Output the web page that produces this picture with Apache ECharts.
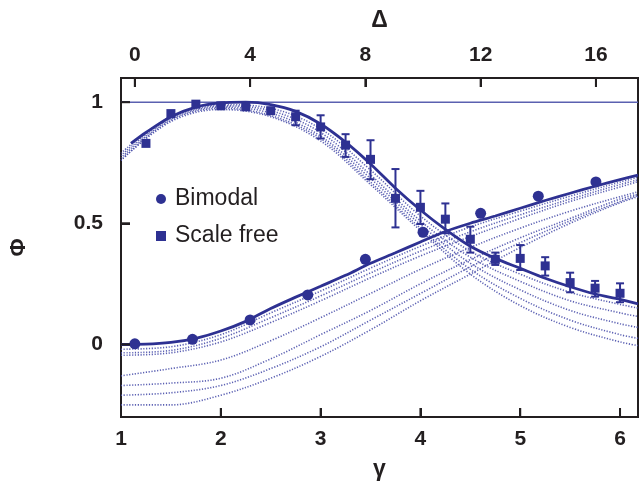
<!DOCTYPE html>
<html>
<head>
<meta charset="utf-8">
<script src="https://cdn.jsdelivr.net/npm/echarts@6/dist/echarts.min.js"></script>
<style>html,body{margin:0;padding:0;background:#fff}#c{width:639px;height:492px}</style>
</head>
<body>
<div id="c"></div>
<script>
// ---- axes ----
const gammaMin = 1, gammaMax = 6.18;
const deltaMin = -0.48, deltaMax = 17.46;
const phiMin = -0.3, phiMax = 1.1;
const gammaTicks = [1, 2, 3, 4, 5, 6];
const deltaTicks = [0, 4, 8, 12, 16];
const phiTicks = [0, 0.5, 1];
const phiRef = 1;

// ---- Bimodal data points (plotted against Δ) ----
const bimodalDelta = [0, 2, 4, 6, 8, 10, 12, 14, 16];
const bimodalPhi = [0.002, 0.021, 0.101, 0.204, 0.351, 0.463, 0.541, 0.612, 0.671];

// ---- Scale free data points (plotted against γ) ----
const sfGamma = [1.25, 1.5, 1.75, 2, 2.25, 2.5, 2.75, 3, 3.25, 3.5, 3.75, 4, 4.25, 4.5, 4.75, 5, 5.25, 5.5, 5.75, 6];
const sfPhi = [0.83, 0.953, 0.992, 0.985, 0.981, 0.965, 0.94, 0.898, 0.823, 0.764, 0.603, 0.566, 0.517, 0.434, 0.351, 0.355, 0.324, 0.255, 0.232, 0.211];
const sfLow = [null, null, null, null, null, 0.955, 0.905, 0.85, 0.774, 0.682, 0.483, 0.497, 0.459, 0.379, 0.328, 0.307, 0.284, 0.215, 0.197, 0.174];
const sfHigh = [null, null, null, null, null, 0.975, 0.965, 0.946, 0.868, 0.843, 0.724, 0.634, 0.582, 0.486, 0.379, 0.41, 0.36, 0.296, 0.262, 0.252];

// ---- fitted solid curves ----
const bimodalFitGamma = [1, 1.25, 1.5, 1.75, 2, 2.25, 2.5, 2.75, 3, 3.25, 3.5, 3.75, 4, 4.25, 4.5, 4.75, 5, 5.25, 5.5, 5.75, 6, 6.18];
const bimodalFit = [0, 0.001, 0.008, 0.025, 0.055, 0.095, 0.148, 0.195, 0.24, 0.285, 0.335, 0.378, 0.423, 0.466, 0.5, 0.53, 0.562, 0.594, 0.624, 0.653, 0.68, 0.699];
const sfFitGamma = [1.1, 1.25, 1.5, 1.75, 2, 2.25, 2.5, 2.75, 3, 3.25, 3.5, 3.75, 4, 4.25, 4.5, 4.75, 5, 5.25, 5.5, 5.75, 6, 6.18];
const sfFit = [0.83, 0.875, 0.94, 0.98, 0.997, 1.0, 0.99, 0.962, 0.91, 0.835, 0.745, 0.645, 0.555, 0.475, 0.405, 0.355, 0.314, 0.273, 0.238, 0.208, 0.186, 0.167];

// ---- dotted simulation curves ----
const dotGamma = [1.0, 1.5, 2.0, 2.5, 3.0, 3.5, 4.0, 4.5, 5.0, 5.5, 6.0, 6.18];
const bimodalDot1 = [-0.02, -0.01, 0.04, 0.13, 0.22, 0.315, 0.405, 0.485, 0.55, 0.612, 0.67, 0.69];
const bimodalDot2 = [-0.035, -0.025, 0.025, 0.11, 0.2, 0.295, 0.385, 0.465, 0.535, 0.6, 0.66, 0.68];
const bimodalDot3 = [-0.045, -0.035, 0.01, 0.09, 0.18, 0.275, 0.365, 0.445, 0.52, 0.59, 0.65, 0.672];
const bimodalDot4 = [-0.13, -0.1, -0.065, 0.015, 0.11, 0.21, 0.31, 0.4, 0.48, 0.55, 0.61, 0.63];
const bimodalDot5 = [-0.17, -0.16, -0.14, -0.06, 0.04, 0.14, 0.25, 0.35, 0.44, 0.52, 0.6, 0.62];
const bimodalDot6 = [-0.21, -0.2, -0.17, -0.1, -0.01, 0.1, 0.21, 0.32, 0.42, 0.51, 0.59, 0.615];
const bimodalDot7 = [-0.25, -0.25, -0.21, -0.14, -0.05, 0.06, 0.18, 0.29, 0.4, 0.5, 0.585, 0.61];
const sfDot1 = [0.79, 0.94, 0.99, 0.975, 0.89, 0.72, 0.53, 0.385, 0.29, 0.215, 0.165, 0.15];
const sfDot2 = [0.78, 0.935, 0.985, 0.965, 0.875, 0.7, 0.51, 0.36, 0.26, 0.18, 0.13, 0.115];
const sfDot3 = [0.77, 0.93, 0.98, 0.955, 0.86, 0.685, 0.495, 0.335, 0.225, 0.14, 0.085, 0.07];
const sfDot4 = [0.76, 0.925, 0.975, 0.945, 0.85, 0.67, 0.48, 0.31, 0.19, 0.1, 0.04, 0.025];
const sfDot5 = [0.76, 0.92, 0.97, 0.94, 0.84, 0.66, 0.47, 0.29, 0.16, 0.07, 0.01, -0.005];

const dotCurves = [bimodalDot1, bimodalDot2, bimodalDot3, bimodalDot4, bimodalDot5, bimodalDot6, bimodalDot7,
                   sfDot1, sfDot2, sfDot3, sfDot4, sfDot5];

const BLUE = '#2e3192';
const DOT = '#4a50ab';
const INK = '#231f20';
const FONT = '"Liberation Sans", Arial, Helvetica, sans-serif';
const TICK_LEN = 9;

const zip = (xs, ys) => xs.map((x, i) => [x, ys[i]]);

const series = [];
dotCurves.forEach(c => {
  series.push({
    type: 'line', xAxisIndex: 0, yAxisIndex: 0, data: zip(dotGamma, c),
    smooth: 0.35, showSymbol: false, silent: true, z: 1,
    lineStyle: { color: DOT, width: 1.6, type: [1.2, 1.6], opacity: 0.9 }
  });
});
series.push({
  type: 'line', xAxisIndex: 0, data: [[gammaMin, phiRef], [gammaMax, phiRef]],
  showSymbol: false, silent: true, z: 2,
  lineStyle: { color: '#5a60b0', width: 1.5 }
});
series.push({
  type: 'line', xAxisIndex: 0, data: zip(bimodalFitGamma, bimodalFit),
  smooth: 0.3, showSymbol: false, silent: true, z: 3,
  lineStyle: { color: BLUE, width: 2.8 }
});
series.push({
  type: 'line', xAxisIndex: 0, data: zip(sfFitGamma, sfFit),
  smooth: 0.3, showSymbol: false, silent: true, z: 3,
  lineStyle: { color: BLUE, width: 2.8 }
});
series.push({
  type: 'custom', xAxisIndex: 0, yAxisIndex: 0, z: 4, silent: true,
  data: sfGamma.map((g, i) => [g, sfLow[i], sfHigh[i]]).filter(d => d[1] != null),
  renderItem: function (params, api) {
    const x = api.value(0);
    const p1 = api.coord([x, api.value(1)]);
    const p2 = api.coord([x, api.value(2)]);
    const w = 4;
    const st = { stroke: BLUE, lineWidth: 2 };
    return {
      type: 'group', children: [
        { type: 'line', shape: { x1: p1[0], y1: p1[1], x2: p2[0], y2: p2[1] }, style: st },
        { type: 'line', shape: { x1: p1[0] - w, y1: p1[1], x2: p1[0] + w, y2: p1[1] }, style: st },
        { type: 'line', shape: { x1: p2[0] - w, y1: p2[1], x2: p2[0] + w, y2: p2[1] }, style: st }
      ]
    };
  }
});
series.push({
  name: 'Bimodal', type: 'scatter', xAxisIndex: 1, yAxisIndex: 0, z: 5,
  data: zip(bimodalDelta, bimodalPhi), symbol: 'circle', symbolSize: 11,
  itemStyle: { color: BLUE, opacity: 1 }
});
series.push({
  name: 'Scale free', type: 'scatter', xAxisIndex: 0, yAxisIndex: 0, z: 5,
  data: zip(sfGamma, sfPhi), symbol: 'rect', symbolSize: 9,
  itemStyle: { color: BLUE, opacity: 1 }
});

// inward tick marks, placed through the axes' own scales
function tickSeries(xAxisIndex, data, dx, dy) {
  return {
    type: 'custom', xAxisIndex: xAxisIndex, yAxisIndex: 0, z: 6, silent: true, clip: false,
    data: data,
    renderItem: function (params, api) {
      const p = api.coord([api.value(0), api.value(1)]);
      return { type: 'line', shape: { x1: p[0], y1: p[1], x2: p[0] + dx * TICK_LEN, y2: p[1] + dy * TICK_LEN },
               style: { stroke: INK, lineWidth: 2 } };
    }
  };
}
series.push(tickSeries(0, gammaTicks.slice(1).map(g => [g, phiMin]), 0, -1));
series.push(tickSeries(1, deltaTicks.map(d => [d, phiMax]), 0, 1));
series.push(tickSeries(0, phiTicks.map(v => [gammaMin, v]), 1, 0));

function axisLineOpt() { return { show: true, onZero: false, lineStyle: { color: INK, width: 2 } }; }
function tickOpt(vals) { return { show: true, inside: true, length: TICK_LEN, lineStyle: { color: INK, width: 2 }, customValues: vals }; }
function labelOpt(margin, vals) { return { color: INK, fontSize: 21, fontWeight: 'bold', fontFamily: FONT, margin: margin, customValues: vals }; }

const option = {
  animation: false,
  backgroundColor: '#fff',
  grid: { left: 119, right: 1, top: 78, bottom: 75, show: true, borderColor: INK, borderWidth: 2 },
  legend: {
    orient: 'vertical', left: 156, top: 187, padding: 0, itemGap: 13,
    itemWidth: 10, itemHeight: 10, selectedMode: false,
    textStyle: { color: INK, fontSize: 23, fontFamily: FONT, lineHeight: 24, padding: [0, 0, 0, 4] },
    data: [{ name: 'Bimodal', icon: 'circle' }, { name: 'Scale free', icon: 'rect' }]
  },
  xAxis: [
    {
      type: 'value', position: 'bottom', min: gammaMin, max: gammaMax,
      axisLine: axisLineOpt(), splitLine: { show: false },
      axisTick: tickOpt(gammaTicks.slice(1)),
      axisLabel: labelOpt(12, gammaTicks),
      name: 'γ', nameLocation: 'middle', nameGap: 41,
      nameTextStyle: { color: INK, fontSize: 23, fontWeight: 'bold', fontFamily: FONT }
    },
    {
      type: 'value', position: 'top', min: deltaMin, max: deltaMax,
      axisLine: axisLineOpt(), splitLine: { show: false },
      axisTick: tickOpt(deltaTicks),
      axisLabel: labelOpt(12, deltaTicks),
      name: 'Δ', nameLocation: 'middle', nameGap: 46,
      nameTextStyle: { color: INK, fontSize: 23, fontWeight: 'bold', fontFamily: FONT }
    }
  ],
  yAxis: [
    {
      type: 'value', min: phiMin, max: phiMax, position: 'left',
      axisLine: axisLineOpt(), splitLine: { show: false },
      axisTick: tickOpt(phiTicks),
      axisLabel: labelOpt(18, phiTicks),
      name: 'Φ', nameLocation: 'middle', nameGap: 91, nameRotate: 90,
      nameTextStyle: { color: INK, fontSize: 22, fontWeight: 'bold', fontFamily: FONT }
    }
  ],
  series: series
};

const chart = echarts.init(document.getElementById('c'), null, { renderer: 'canvas' });
chart.setOption(option);
</script>
</body>
</html>
